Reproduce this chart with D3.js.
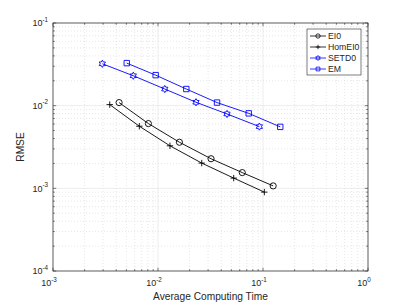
<!DOCTYPE html>
<html>
<head>
<meta charset="utf-8">
<script src="https://cdn.jsdelivr.net/npm/d3@7"></script>
<style>
  body { margin: 0; background: #fff; }
  text { font-family: "Liberation Sans", Arial, sans-serif; fill: #262626; }
</style>
</head>
<body>
<svg id="chart" width="407" height="305"></svg>
<script>
// series values
var seriesNames = ["EI0", "HomEI0", "SETD0", "EM"];
var ei0Time  = [0.00426, 0.0081, 0.016, 0.032, 0.0635, 0.125];
var ei0Rmse  = [0.0109, 0.00607, 0.00361, 0.00228, 0.00155, 0.00107];
var homTime  = [0.00347, 0.00664, 0.013, 0.0261, 0.0526, 0.103];
var homRmse  = [0.0103, 0.00564, 0.00327, 0.00202, 0.00133, 0.0009];
var setdTime = [0.00295, 0.00582, 0.0116, 0.023, 0.0454, 0.0923];
var setdRmse = [0.0321, 0.023, 0.0159, 0.011, 0.00794, 0.00558];
var emTime   = [0.00504, 0.0095, 0.0186, 0.0365, 0.0731, 0.146];
var emRmse   = [0.0327, 0.0234, 0.0159, 0.0109, 0.00807, 0.00554];
var xTickExp = [-3, -2, -1, 0];
var yTickExp = [-4, -3, -2, -1];

var cfg = { left: 53, right: 368, top: 23, bottom: 271 };

var svg = d3.select("#chart");
var x = d3.scaleLog().domain([1e-3, 1]).range([cfg.left, cfg.right]);
var y = d3.scaleLog().domain([1e-4, 1e-1]).range([cfg.bottom, cfg.top]);

// minor values per decade
function minors(lo, hi) {
  var out = [];
  for (var e = lo; e < hi; e++) {
    for (var k = 2; k <= 9; k++) out.push(k * Math.pow(10, e));
  }
  return out;
}
var xMinor = minors(-3, 0), yMinor = minors(-4, -1);
var xMajor = xTickExp.map(function(e){ return Math.pow(10, e); });
var yMajor = yTickExp.map(function(e){ return Math.pow(10, e); });

// grid
var grid = svg.append("g");
grid.selectAll("line.xm").data(xMinor).enter().append("line")
  .attr("x1", x).attr("x2", x).attr("y1", cfg.top).attr("y2", cfg.bottom)
  .attr("stroke", "#cfcfcf").attr("stroke-width", 0.5).attr("stroke-dasharray", "1,2");
grid.selectAll("line.ym").data(yMinor).enter().append("line")
  .attr("y1", y).attr("y2", y).attr("x1", cfg.left).attr("x2", cfg.right)
  .attr("stroke", "#cfcfcf").attr("stroke-width", 0.5).attr("stroke-dasharray", "1,2");
grid.selectAll("line.xM").data(xMajor).enter().append("line")
  .attr("x1", x).attr("x2", x).attr("y1", cfg.top).attr("y2", cfg.bottom)
  .attr("stroke", "#e0e0e0").attr("stroke-width", 0.6);
grid.selectAll("line.yM").data(yMajor).enter().append("line")
  .attr("y1", y).attr("y2", y).attr("x1", cfg.left).attr("x2", cfg.right)
  .attr("stroke", "#e0e0e0").attr("stroke-width", 0.6);

// ticks on all four sides, pointing inward
var ticks = svg.append("g").attr("stroke", "#262626").attr("stroke-width", 0.6);
function xTicks(vals, len) {
  ticks.selectAll(null).data(vals).enter().append("line")
    .attr("x1", x).attr("x2", x).attr("y1", cfg.bottom).attr("y2", cfg.bottom - len);
  ticks.selectAll(null).data(vals).enter().append("line")
    .attr("x1", x).attr("x2", x).attr("y1", cfg.top).attr("y2", cfg.top + len);
}
function yTicks(vals, len) {
  ticks.selectAll(null).data(vals).enter().append("line")
    .attr("y1", y).attr("y2", y).attr("x1", cfg.left).attr("x2", cfg.left + len);
  ticks.selectAll(null).data(vals).enter().append("line")
    .attr("y1", y).attr("y2", y).attr("x1", cfg.right).attr("x2", cfg.right - len);
}
xTicks(xMajor, 3.2); xTicks(xMinor, 1.8);
yTicks(yMajor, 3.2); yTicks(yMinor, 1.8);

// frame
svg.append("rect")
  .attr("x", cfg.left).attr("y", cfg.top)
  .attr("width", cfg.right - cfg.left).attr("height", cfg.bottom - cfg.top)
  .attr("fill", "none").attr("stroke", "#262626").attr("stroke-width", 0.7);

// tick labels, 10 with superscript exponent
function powLabel(sel, e) {
  sel.append("tspan").attr("font-size", 9).text("10");
  sel.append("tspan").attr("font-size", 6.3).attr("dy", -4.5).text(e);
}
xTickExp.forEach(function(e) {
  var t = svg.append("text").attr("x", x(Math.pow(10, e)) - 4).attr("y", 286)
    .attr("text-anchor", "middle");
  powLabel(t, e);
});
yTickExp.forEach(function(e) {
  var t = svg.append("text").attr("x", cfg.left - 5).attr("y", y(Math.pow(10, e)) + 3.2)
    .attr("text-anchor", "end");
  powLabel(t, e);
});

svg.append("text").attr("x", (cfg.left + cfg.right) / 2).attr("y", 300)
  .attr("text-anchor", "middle").attr("font-size", 10.2).text("Average Computing Time");
svg.append("text").attr("transform", "translate(24," + ((cfg.top + cfg.bottom) / 2) + ") rotate(-90)")
  .attr("text-anchor", "middle").attr("font-size", 10.2).text("RMSE");

// markers
function hexagram(r) {
  var pts = [];
  for (var i = 0; i < 12; i++) {
    var a = -Math.PI / 2 + i * Math.PI / 6;
    var rr = (i % 2 === 0) ? r : r * 0.58;
    pts.push([rr * Math.cos(a), rr * Math.sin(a)]);
  }
  return "M" + pts.map(function(p){ return p[0].toFixed(2) + "," + p[1].toFixed(2); }).join("L") + "Z";
}
var markerPath = {
  circle: function(k) { return d3.symbol(d3.symbolCircle, 30 * k * k)(); },
  plus: function(k) { var a = 3.2 * k; return "M" + (-a) + ",0L" + a + ",0M0," + (-a) + "L0," + a; },
  hex: function(k) { return hexagram(3.6 * k); },
  square: function(k) { var a = 2.7 * k; return "M" + (-a) + "," + (-a) + "L" + a + "," + (-a) + "L" + a + "," + a + "L" + (-a) + "," + a + "Z"; }
};

var series = [
  { name: seriesNames[0], t: ei0Time,  r: ei0Rmse,  color: "#000000", marker: "circle" },
  { name: seriesNames[1], t: homTime,  r: homRmse,  color: "#000000", marker: "plus" },
  { name: seriesNames[2], t: setdTime, r: setdRmse, color: "#0000ff", marker: "hex" },
  { name: seriesNames[3], t: emTime,   r: emRmse,   color: "#0000ff", marker: "square" }
];

var line = d3.line().x(function(d){ return x(d[0]); }).y(function(d){ return y(d[1]); });

series.forEach(function(s) {
  var pts = d3.zip(s.t, s.r);
  var g = svg.append("g");
  g.append("path").attr("d", line(pts)).attr("fill", "none")
    .attr("stroke", s.color).attr("stroke-width", 0.9);
  g.selectAll("path.m").data(pts).enter().append("path")
    .attr("class", "m")
    .attr("transform", function(d){ return "translate(" + x(d[0]) + "," + y(d[1]) + ")"; })
    .attr("d", markerPath[s.marker](1))
    .attr("fill", "none").attr("stroke", s.color).attr("stroke-width", 0.9);
});

// legend
var leg = svg.append("g").attr("transform", "translate(307,29)");
leg.append("rect").attr("width", 54).attr("height", 46)
  .attr("fill", "#fff").attr("stroke", "#262626").attr("stroke-width", 0.6);
series.forEach(function(s, i) {
  var yy = 7 + i * 11;
  leg.append("line").attr("x1", 3).attr("x2", 19).attr("y1", yy).attr("y2", yy)
    .attr("stroke", s.color).attr("stroke-width", 0.8);
  leg.append("path").attr("transform", "translate(11," + yy + ")")
    .attr("d", markerPath[s.marker](0.7))
    .attr("fill", "none").attr("stroke", s.color).attr("stroke-width", 0.8);
  leg.append("text").attr("x", 21).attr("y", yy + 3.2).attr("font-size", 8.7).text(s.name);
});
</script>
</body>
</html>
